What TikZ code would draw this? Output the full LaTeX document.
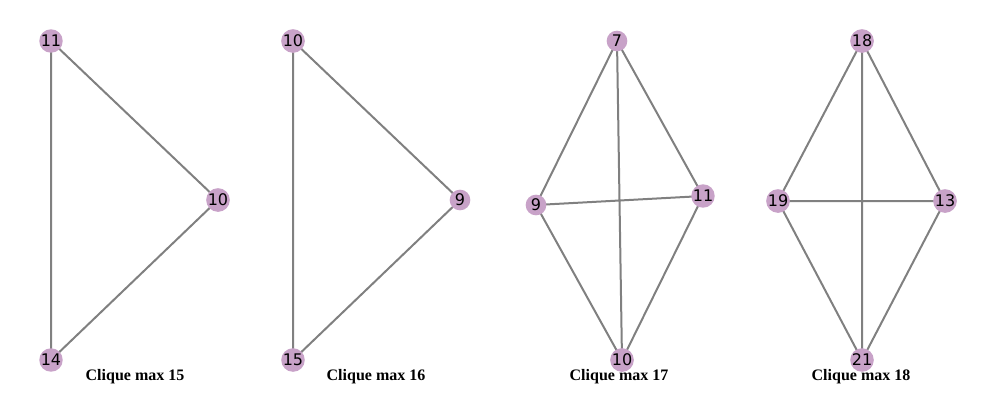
\documentclass[tikz,border=0pt]{standalone}
\usepackage{fontspec}
\setmainfont{Liberation Serif}
\newfontfamily\labfont{DejaVu Sans}
\definecolor{nodecol}{RGB}{200,162,200}
\definecolor{edgecol}{RGB}{128,128,128}
\begin{document}
\begin{tikzpicture}[x=0.75pt,y=-0.75pt,
  vert/.style={circle,fill=nodecol,minimum size=15.5pt,inner sep=0pt,font=\labfont\fontsize{12}{14}\selectfont},
  edge/.style={draw=edgecol,line width=1.5pt},
  ttl/.style={font=\fontsize{12}{14}\selectfont\bfseries}]
\useasboundingbox (0,0) rectangle (981,412);
% graph 1
\coordinate (a11) at (51,41);
\coordinate (a10) at (218,200);
\coordinate (a14) at (51,360);
\draw[edge] (a11)--(a10) (a11)--(a14) (a10)--(a14);
\node[vert] (n11) at (a11) {11};
\node[vert] (n10) at (a10) {10};
\node[vert] (n14) at (a14) {14};
\node[ttl] (t1) at (135,377) {Clique max 15};
% graph 2
\coordinate (b10) at (293,41);
\coordinate (b9) at (460,200);
\coordinate (b15) at (293,360);
\draw[edge] (b10)--(b9) (b10)--(b15) (b9)--(b15);
\node[vert] (m10) at (b10) {10};
\node[vert] (m9) at (b9) {9};
\node[vert] (m15) at (b15) {15};
\node[ttl] (t2) at (376,377) {Clique max 16};
% graph 3
\coordinate (c7) at (617,41);
\coordinate (c11) at (703,196);
\coordinate (c9) at (536,205);
\coordinate (c10) at (622,360);
\draw[edge] (c7)--(c9) (c7)--(c11) (c7)--(c10) (c9)--(c11) (c9)--(c10) (c11)--(c10);
\node[vert] (p7) at (c7) {7};
\node[vert] (p11) at (c11) {11};
\node[vert] (p9) at (c9) {9};
\node[vert] (p10) at (c10) {10};
\node[ttl] (t3) at (619,377) {Clique max 17};
% graph 4
\coordinate (d18) at (862,41);
\coordinate (d19) at (778,201);
\coordinate (d13) at (945,201);
\coordinate (d21) at (862,360);
\draw[edge] (d18)--(d19) (d18)--(d13) (d18)--(d21) (d19)--(d13) (d19)--(d21) (d13)--(d21);
\node[vert] (q18) at (d18) {18};
\node[vert] (q19) at (d19) {19};
\node[vert] (q13) at (d13) {13};
\node[vert] (q21) at (d21) {21};
\node[ttl] (t4) at (861,377) {Clique max 18};
\end{tikzpicture}
\end{document}
